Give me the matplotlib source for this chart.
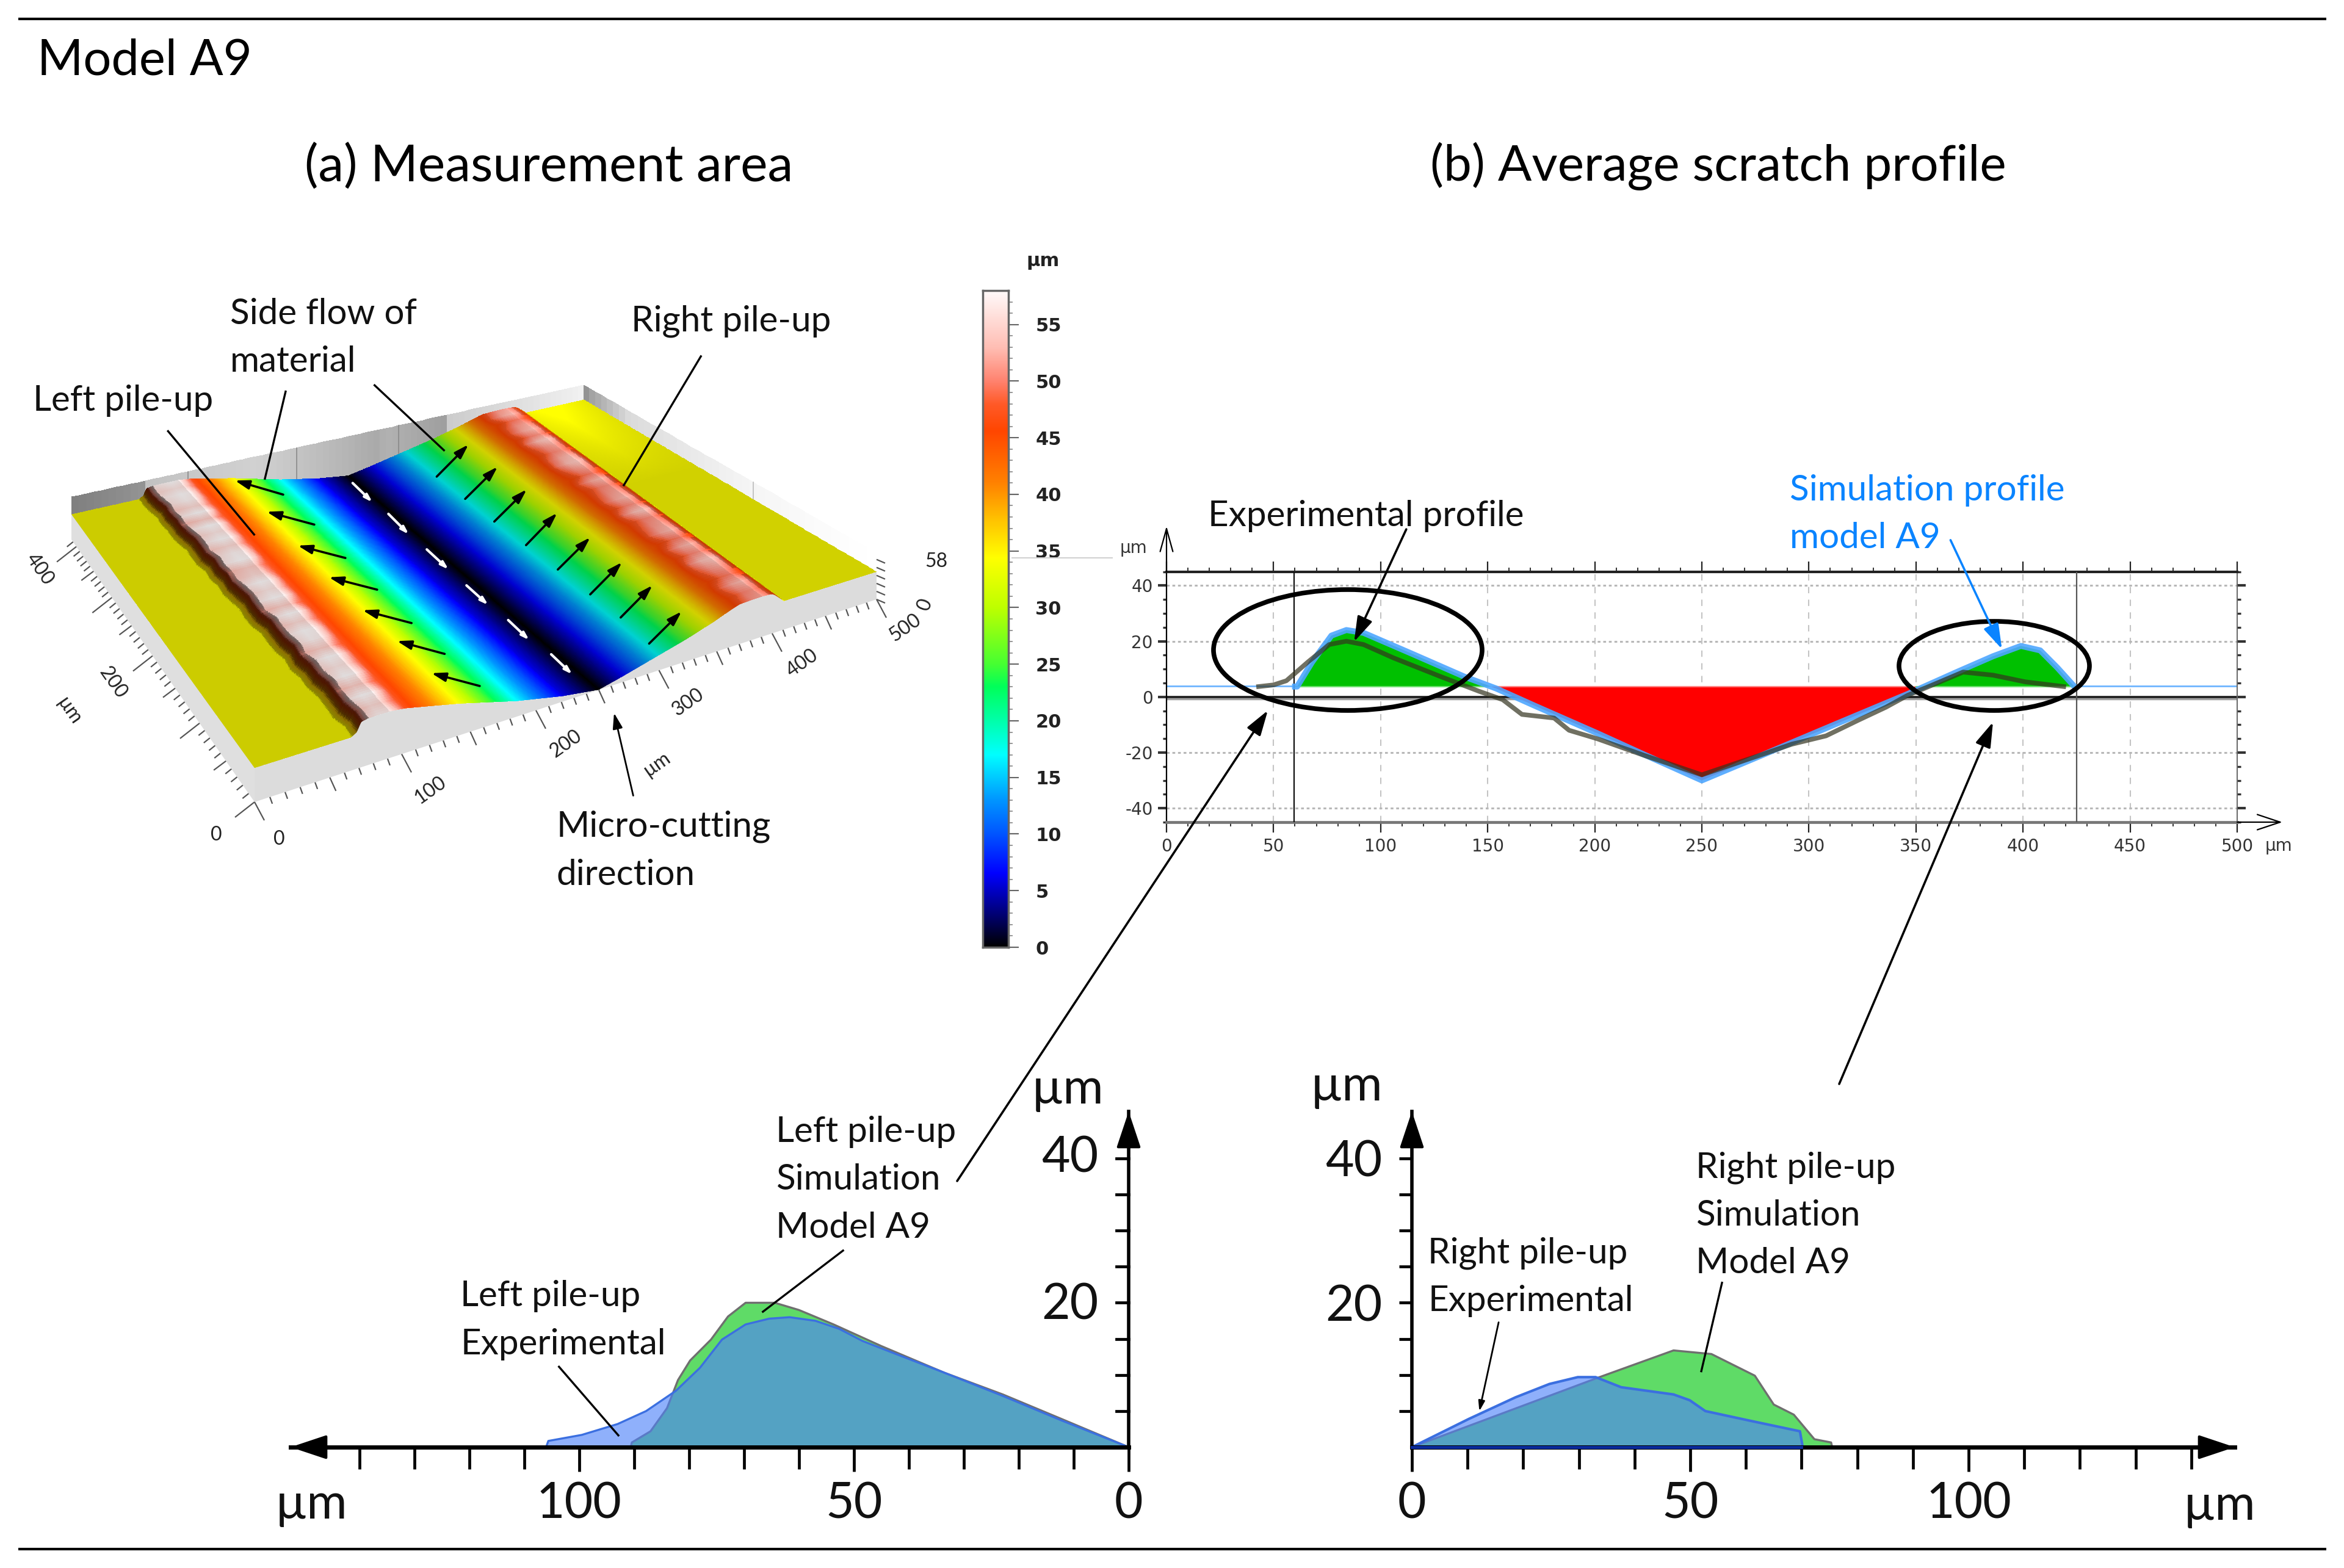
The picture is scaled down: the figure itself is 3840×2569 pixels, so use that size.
import numpy as np
import matplotlib
matplotlib.use("Agg")
import matplotlib.pyplot as plt
from matplotlib.colors import LinearSegmentedColormap
from matplotlib.patches import Ellipse
from matplotlib.collections import LineCollection
from matplotlib.ticker import FixedLocator, NullFormatter

W, H = 3841, 2569
S = W / 1568.0
FONT = ["Lato", "DejaVu Sans"]
plt.rcParams["font.family"] = FONT

# ---------- data ----------
# average scratch profile (b)
exp_x = [43, 50, 56, 66, 76, 84, 92, 106, 128, 146, 157, 166, 181, 188, 201, 223, 250, 277, 292, 308, 323, 336, 346, 359, 372, 386, 401, 419]
exp_y = [3.7, 4.3, 5.8, 12.5, 18.8, 20, 18.8, 14, 7.3, 2, -1, -6.3, -7.6, -12, -15, -21, -28, -21, -17, -14, -8.4, -3.7, 0.5, 4.7, 8.9, 7.8, 5.4, 3.7]
sim_x = [60, 61, 68, 77, 84, 92, 114, 139, 154, 172, 201, 223, 250, 277, 314, 346, 369, 386, 399, 408, 416, 424]
sim_y = [3.7, 3.7, 12.5, 22, 24, 23, 15.7, 7.3, 3, -3.2, -13, -20.7, -30, -21.3, -9.3, 1, 8.9, 14.6, 18.3, 16.7, 10.5, 3.7]
base_level = 3.7
cursor_x = [59.5, 425]

# left pile-up
lsim_x = [90.6, 90.4, 87, 84, 82, 79.8, 76, 72.9, 69.7, 64.4, 60, 53.7, 45, 33.5, 22.9, 12.2, 0]
lsim_y = [0, 0.65, 2.2, 5.4, 9.3, 12, 14.9, 18.1, 20, 20, 19, 17, 14, 10.3, 7.3, 3.9, 0]
lexp_x = [106, 105.6, 99.5, 93, 87.8, 82.4, 78, 74, 69.7, 65.4, 61.7, 57, 52.7, 48.4, 43, 33.5, 22.9, 12.2, 0]
lexp_y = [0, 0.86, 1.7, 3.2, 5, 7.8, 11, 14.9, 17, 17.8, 18, 17.5, 16.4, 14.7, 13.1, 10.3, 7.1, 3.7, 0]

# right pile-up
rsim_x = [0, 33.7, 47, 53.8, 61.6, 65, 68.6, 72.3, 75.3, 75.5]
rsim_y = [0, 9.7, 13.4, 12.9, 9.9, 5.9, 4.5, 1.1, 0.65, 0]
rexp_x = [0, 10.2, 18.6, 24.7, 29.8, 33, 37.6, 47, 49.9, 52.7, 60.5, 69.7, 70.2]
rexp_y = [0, 3.9, 6.9, 8.75, 9.7, 9.7, 8.3, 7.3, 6.5, 5, 3.7, 2.2, 0]

# measured surface (a): cross profile
surf_x = [0, 64, 68, 72, 76, 84, 92, 97, 103, 141, 185, 221, 250, 270, 300, 330, 355, 372, 382, 392, 402, 408, 414, 420, 423, 500]
surf_z = [34.4, 34.4, 38, 50, 56, 57.5, 57, 53, 47, 34.4, 17, 6, 0, 6, 16, 26, 36, 44, 48, 51, 52, 50, 45, 38, 34.4, 34.4]
# along-scratch irregularity of the pile-ups, front to back
station_v = np.linspace(0, 1, 31)
cliff_jag = [0.5, 2, 0, 1, 2, 0.5, 1.5, 0, 2, 0.5, 1, 2, 0, 0.5, 2, 1, 0, 1.5, 0.5, 2, 0, 1, 2, 0.5, 0, 1, 0.5, 2, 0.5, 0, 1]
ridge_wob = [0, -2, 0.5, -3, 0.5, -1, 0.5, -3, 0, 0.5, -2, 0.5, -3, 0.5, -1, 0.5, -2, -3, 0.5, 0, -2, 0.5, -1, 0.5, -3, 0.5, -2, 0, 0.5, -1, 0.5]
right_wob = [0, -1, 1, -2, 0, 2, -1, 1, -2, 1, 0, -1, 2, -1, 1, 0, -1, 1, -2, 0, 2, 1, -1, 0, 2, -1, 1, 0, -2, 1, 0]

# colour scale (a)
cb_vals = [0, 3, 6.5, 10, 13, 17, 20, 23, 25, 30, 34.4, 38, 41, 45.6, 48, 50, 53, 58]
cb_cols = ["#000000", "#000078", "#0000ff", "#0055ff", "#0096ff", "#00ffff", "#00ffaa", "#00ff5a", "#46ff32",
           "#beff00", "#ffff00", "#ffbe00", "#ff8200", "#ff4600", "#ff5a28", "#ff826e", "#ffbeb4", "#fffafa"]
cb_ticks = list(range(0, 56, 5))
Z_MAX = 58

profile_xticks = list(range(0, 501, 50))
profile_yticks = [-40, -20, 0, 20, 40]
pile_labels = [0, 50, 100]

# ---------- layers ----------
fig = plt.figure(figsize=(W / 100, H / 100), dpi=100, facecolor="white")


def rect_axes(x0, y0, x1, y1, **kw):
    return fig.add_axes([x0 / W, 1 - y1 / H, (x1 - x0) / W, (y1 - y0) / H], **kw)


bg = fig.add_axes([0, 0, 1, 1], zorder=0)
bg.set_xlim(0, W)
bg.set_ylim(H, 0)
bg.axis("off")

top = fig.add_axes([0, 0, 1, 1], zorder=10)
top.set_xlim(0, W)
top.set_ylim(H, 0)
top.axis("off")
top.patch.set_alpha(0)


def T(x, y, s, ha="left", size=42, color="k", rot=0, ax=None, **kw):
    (ax or top).text(x * S, (y + 1.0) * S, s, ha=ha, va="center", fontsize=size, color=color,
                     rotation=rot, rotation_mode="anchor", **kw)


def px(x, y, s, ha="center", size=23, color="#222222", rot=0, **kw):
    top.text(x, y, s, ha=ha, va="center", fontsize=size, color=color, rotation=rot,
             rotation_mode="anchor", **kw)


def arrow(p0, p1, color="k", lw=2.4, ms=26, style="-|>,head_length=0.7,head_width=0.22"):
    top.annotate("", xy=p1, xytext=p0,
                 arrowprops=dict(arrowstyle=style, lw=lw, color=color, mutation_scale=ms,
                                 shrinkA=0, shrinkB=0))


def line(p0, p1, color="k", lw=2.4):
    top.plot([p0[0], p1[0]], [p0[1], p1[1]], color=color, lw=lw, solid_capstyle="butt")


def z1(x, y):
    return (1.084 * x, 400 + 0.7015 * y)


def z2(x, y):
    return (1800 + 1.2755 * x, 750 + 0.4783 * y)


def z3(x, y):
    return (400 + 0.9566 * x, 1750 + 0.511 * y)


def z4(x, y):
    return (2100 + 1.0204 * x, 1750 + 0.511 * y)


# ---------- colour map ----------
cmap = LinearSegmentedColormap.from_list(
    "surf", [(v / Z_MAX, c) for v, c in zip(cb_vals, cb_cols)], N=1024)

# ---------- (a) projected surface ----------
XMAX, YMAX = 500.0, 415.0
src = [(0, 0), (1, 0), (0, 1), (1, 1)]
dst = [(417, 1314), (1436, 982), (117, 884), (956, 690)]
A, b = [], []
for (u, v), (X, Y) in zip(src, dst):
    A.append([u, v, 1, 0, 0, 0, -u * X, -v * X]); b.append(X)
    A.append([0, 0, 0, u, v, 1, -u * Y, -v * Y]); b.append(Y)
h = np.linalg.solve(np.array(A, float), np.array(b, float))
Hm = np.array([[h[0], h[1], h[2]], [h[3], h[4], h[5]], [h[6], h[7], 1.0]])


def project(x, y, z):
    u, v = np.asarray(x, float) / XMAX, np.asarray(y, float) / YMAX
    w = Hm[2, 0] * u + Hm[2, 1] * v + Hm[2, 2]
    sx = (Hm[0, 0] * u + Hm[0, 1] * v + Hm[0, 2]) / w
    sy = (Hm[1, 0] * u + Hm[1, 1] * v + Hm[1, 2]) / w
    return sx, sy - 1.62 / w * np.asarray(z, float)


def geom(z):
    z = np.asarray(z, float)
    return np.where(z > 47, 47 + 0.2 * (z - 47), z)


sx_arr, sz_arr = np.array(surf_x, float), np.array(surf_z, float)
grid_x = np.linspace(0, XMAX, 901)
rows_v = np.linspace(1, 0, 151)  # back to front
cliff = (sx_arr > 60) & (sx_arr < 80)
lridge = (sx_arr >= 76) & (sx_arr <= 97)
rgt = (sx_arr > 250) & (sx_arr < 500)
rridge = (sx_arr >= 382) & (sx_arr <= 408)
Zrows = []
for v in rows_v:
    xs = sx_arr.copy()
    zs = sz_arr.copy()
    xs[cliff] += np.interp(v, station_v, cliff_jag) - 8 * v
    zs[lridge] += np.interp(v, station_v, ridge_wob)
    xs[rgt] = 250 + (sx_arr[rgt] - 250) * (0.93 + 0.14 * v)
    zs[rridge] += np.interp(v, station_v, right_wob)
    Zrows.append(np.interp(grid_x, xs, np.clip(zs, 0, Z_MAX)))
Zrows = np.array(Zrows)
grad = np.gradient(Zrows, grid_x, axis=1)
shade = np.interp(grad, [-5, -0.25, -0.03, 0.03, 0.4, 1.0, 3.0], [0.9, 1.0, 0.82, 0.78, 0.8, 0.5, 0.3])
shade = np.where((Zrows > 48) & (grad < 0.6), np.maximum(shade, 0.88), shade)
right_side = grid_x > 250
shade[:, right_side] = np.maximum(shade[:, right_side], 0.82)
shade[:, right_side] = np.where(grad[:, right_side] < -0.7, 0.78, shade[:, right_side])
# brighter sheen on the far plain behind the right pile-up
sheen = np.outer(np.clip((rows_v - 0.55) / 0.45, 0, 1), np.clip(1 - np.abs(grid_x - 460) / 70, 0, 1))
shade = np.clip(shade + 0.22 * sheen, 0, 1)
rgba = cmap(Zrows / Z_MAX)[:, :, :3] * shade[:, :, None]

Xg, Yg = np.meshgrid(grid_x, rows_v * YMAX)
SX, SY = project(Xg, Yg, geom(Zrows))
cell_rgb = rgba[:-1, :-1, :]

# back walls
wall_z = np.array([0.0, 58.0])
wx = np.linspace(0, XMAX, 81)
WX, WZ = np.meshgrid(wx, wall_z)
BX, BY = project(WX, np.full_like(WX, YMAX), WZ)
back_gray = np.interp(wx[:-1], [0, 60, 62, 160, 280, 282, 345, 350, 500],
                      [0.50, 0.58, 0.76, 0.82, 0.66, 0.7, 0.62, 0.8, 0.95])
bg.pcolormesh(BX, BY, np.dstack([back_gray] * 3).reshape(1, 80, 3), shading="flat", zorder=1)
wy = np.linspace(0, YMAX, 41)
WY, WZ2 = np.meshgrid(wy, wall_z)
RX, RY = project(np.full_like(WY, XMAX), WY, WZ2)
right_gray = np.interp(wy[:-1], [0, 150, 330, 400, YMAX], [1.0, 0.96, 0.86, 0.62, 0.48])
bg.pcolormesh(RX, RY, np.dstack([right_gray] * 3).reshape(1, 40, 3), shading="flat", zorder=1)
for xw in (100, 200, 300):
    a0 = project(xw * 1.0, YMAX, 0.0)
    a1 = project(xw * 1.0, YMAX, 58.0)
    bg.plot([a0[0], a1[0]], [a0[1], a1[1]], color="#8a8a8a", lw=1.2, zorder=1.5)
a0 = project(XMAX, 150.0, 33.0)
a1 = project(XMAX, 150.0, 58.0)
bg.plot([a0[0], a1[0]], [a0[1], a1[1]], color="#bbbbbb", lw=1.2, zorder=1.5)

bg.pcolormesh(SX, SY, cell_rgb, shading="flat", zorder=2, antialiased=False, edgecolors="none")

# front and left faces of the block
fx, fy = project(grid_x, np.zeros_like(grid_x), geom(Zrows[-1]))
f0x, f0y = project(grid_x, np.zeros_like(grid_x), np.zeros_like(grid_x))
bg.fill(np.r_[fx, f0x[::-1]], np.r_[fy, f0y[::-1]], color="#dcdcdc", zorder=3, lw=0)
ly = np.linspace(0, YMAX, 41)
lx, lyy = project(np.zeros_like(ly), ly, np.full_like(ly, surf_z[0]))
l0x, l0y = project(np.zeros_like(ly), ly, np.zeros_like(ly))
bg.fill(np.r_[lx, l0x[::-1]], np.r_[lyy, l0y[::-1]], color="#dfdfdf", zorder=3, lw=0)

# axes ticks of the block
segs = []
for xt in range(0, 501, 10):
    d = (16, 30) if xt % 100 == 0 else ((10, 22) if xt % 50 == 0 else (4, 11))
    p = project(float(xt), 0.0, 0.0)
    segs.append([(float(p[0]), float(p[1])), (float(p[0]) + d[0], float(p[1]) + d[1])])
for yt in range(0, 411, 10):
    d = (-32, 25) if yt % 100 == 0 else ((-20, 15) if yt % 50 == 0 else (-10, 8))
    p = project(0.0, float(yt), 0.0)
    segs.append([(float(p[0]), float(p[1])), (float(p[0]) + d[0], float(p[1]) + d[1])])
for zt in range(0, 59, 10):
    p = project(XMAX, 0.0, float(zt) * 1.0)
    segs.append([(float(p[0]), float(p[1])), (float(p[0]) + 14, float(p[1]) + 6)])
bg.add_collection(LineCollection(segs, colors="#555555", linewidths=1.6, zorder=4))

for x, y, s, r in [(354, 1368, "0", 0), (457, 1375, "0", 0), (705, 1295, "100", 35), (927, 1219, "200", 35),
                   (1127, 1151, "300", 35), (1314, 1087, "400", 35), (1483, 1029, "500", 35),
                   (1076, 1252, "µm", 35), (1516, 990, "0", 70), (1534, 920, "58", 0),
                   (65, 933, "400", -55), (185, 1119, "200", -55), (113, 1165, "µm", -55)]:
    px(x, y, s, rot=r)

# arrows on the surface
for a, c in [((428, 585), (355, 552)), ((475, 655), (403, 625)), ((522, 733), (450, 704)), ((570, 807), (497, 778)),
             ((622, 885), (548, 855)), ((672, 957), (600, 927)), ((725, 1032), (652, 1002)),
             ((660, 543), (708, 468)), ((703, 595), (752, 520)), ((747, 648), (796, 573)), ((795, 703), (842, 628)),
             ((843, 760), (892, 685)), ((892, 818), (940, 743)), ((938, 872), (986, 797)), ((981, 933), (1030, 858))]:
    arrow(z1(*a), z1(*c), lw=2.6, ms=20)
for a, c in [((533, 558), (563, 603)), ((587, 630), (618, 678)), ((645, 713), (678, 760)), ((705, 797), (738, 843)),
             ((768, 878), (800, 925)), ((833, 958), (865, 1005))]:
    arrow(z1(*a), z1(*c), color="white", lw=3, ms=10)

# ---------- colour bar ----------
cb = rect_axes(1610, 476, 1652, 1552, zorder=5)
cb.imshow(np.linspace(Z_MAX, 0, 1024)[:, None], cmap=cmap, vmin=0, vmax=Z_MAX, aspect="auto", extent=[0, 1, 0, Z_MAX])
cb.set_xticks([])
cb.yaxis.tick_right()
cb.set_yticks(cb_ticks)
cb.set_yticklabels([str(t) for t in cb_ticks], fontsize=22, fontweight="bold", family="DejaVu Sans", color="#222222")
cb.yaxis.set_minor_locator(FixedLocator(list(range(0, 58))))
cb.tick_params(axis="y", which="major", length=12, width=1.5, color="#666666", pad=20)
cb.tick_params(axis="y", which="minor", length=5, width=1.2, color="#888888")
for v in range(0, 51, 10):
    cb.plot([1, 1.36], [v, v], color="#666666", lw=1.5, clip_on=False)
cb.set_xlim(0, 1)
cb.set_ylim(0, Z_MAX)
for sp in cb.spines.values():
    sp.set_color("#666666")
    sp.set_linewidth(2.5)
px(1708, 427, "µm", size=22, family="DejaVu Sans", fontweight="bold")
line((1657, 914), (1823, 914), color="#cfcfcf", lw=1.4)

# ---------- (b) profile ----------
pr = rect_axes(1911, 936.5, 3665, 1347, zorder=5)
pr.set_xlim(0, 500)
pr.set_ylim(-45, 45)
sx_p = np.array(sim_x, float)
sy_p = np.array(sim_y, float)
for v in profile_xticks[1:-1]:
    pr.axvline(v, color="#c4c4c4", lw=1.5, ls=(0, (5, 5)), zorder=1)
for v in [-40, -20, 20, 40]:
    pr.axhline(v, color="#b8b8b8", lw=2.2, ls=(0, (1.5, 1.5)), zorder=1)
pr.axhline(-0.7, color="#a0a0a0", lw=2.5, zorder=1.2)
pr.axhline(0, color="#1a1a1a", lw=2.6, zorder=1.3)
pr.plot([0, 60], [4, 4], color="#6fb6ff", lw=2, zorder=2)
pr.plot([424, 500], [4, 4], color="#6fb6ff", lw=2, zorder=2)
pr.fill_between(sx_p, sy_p, base_level, where=sy_p >= base_level, interpolate=True, color="#00c000", lw=0, zorder=2)
pr.fill_between(sx_p, sy_p, base_level, where=sy_p <= base_level, interpolate=True, color="#ff0000", lw=0, zorder=2)
pr.plot([60, 150], [base_level] * 2, color="#70e070", lw=1.6, zorder=2.2)
pr.plot([154, 346], [base_level] * 2, color="#ff8080", lw=1.6, zorder=2.2)
pr.plot([350, 424], [base_level] * 2, color="#70e070", lw=1.6, zorder=2.2)
pr.axvline(cursor_x[0], color="#111111", lw=1.6, zorder=3)
pr.axvline(cursor_x[1], color="#555555", lw=1.6, zorder=3)
pr.plot(sim_x, sim_y, color="#4da6ff", lw=7, alpha=0.9, zorder=4, solid_joinstyle="round")
pr.plot(exp_x, exp_y, color="#34341f", lw=5.5, alpha=0.7, zorder=5, solid_joinstyle="round")
pr.set_xticks(profile_xticks)
pr.set_xticklabels([str(v) for v in profile_xticks], fontsize=20, family="DejaVu Sans", color="#333333")
pr.set_yticks(profile_yticks)
pr.set_yticklabels([str(v) for v in profile_yticks], fontsize=20, family="DejaVu Sans", color="#333333")
pr.xaxis.set_minor_locator(FixedLocator(list(range(0, 501, 10))))
pr.yaxis.set_minor_locator(FixedLocator(list(range(-45, 46, 5))))
pr.xaxis.set_minor_formatter(NullFormatter())
pr.tick_params(axis="x", which="major", top=True, length=12, width=1.6, color="#222222", pad=7)
pr.tick_params(axis="x", which="minor", top=True, length=5, width=1.4, color="#333333")
pr.tick_params(axis="y", which="major", right=True, length=10, width=3, color="#333333", pad=6)
pr.tick_params(axis="y", which="minor", right=True, length=4, width=2.4, color="#333333")
pr.spines["top"].set_linewidth(3)
pr.spines["top"].set_color("#222222")
pr.spines["bottom"].set_linewidth(3.4)
pr.spines["bottom"].set_color("#777777")
pr.spines["left"].set_linewidth(1.6)
pr.spines["right"].set_linewidth(1.4)
pr.spines["right"].set_color("#666666")
pr.set_facecolor("white")
arrow((1911, 937), (1911, 862), lw=1.6, ms=30, style="->,head_length=0.9,head_width=0.25")
arrow((3665, 1347), (3739, 1347), lw=1.6, ms=30, style="->,head_length=0.9,head_width=0.3")
px(1857, 898, "µm", size=20, family="DejaVu Sans", color="#333333")
px(3733, 1386, "µm", size=20, family="DejaVu Sans", color="#333333")
top.add_patch(Ellipse((2208, 1065), 440, 198, fill=False, ec="k", lw=5.5))
top.add_patch(Ellipse((3267, 1091), 312, 146, fill=False, ec="k", lw=5.5))


# ---------- pile-up plots ----------
def pile_axes(x0, x1, y0, y1, xlim, ylim):
    ax = rect_axes(x0, y0, x1, y1, zorder=4)
    ax.set_xlim(*xlim)
    ax.set_ylim(*ylim)
    ax.patch.set_alpha(0)
    ax.set_xticks(pile_labels)
    ax.set_xticklabels([str(v) for v in pile_labels], fontsize=58, color="#111111")
    ax.xaxis.set_minor_locator(FixedLocator([v for v in range(0, 141, 10) if v not in pile_labels]))
    ax.set_yticks([20, 40])
    ax.set_yticklabels(["20", "40"], fontsize=58, color="#111111")
    ax.yaxis.set_minor_locator(FixedLocator([5, 10, 15, 25, 30, 35]))
    ax.tick_params(axis="x", which="major", length=29, width=3.4, pad=12)
    ax.tick_params(axis="x", which="minor", length=26, width=3.4)
    return ax


GREEN, BLUE = "#5fdb67", (78 / 255, 130 / 255, 250 / 255, 0.63)

ax = pile_axes(476, 1849, 1821, 2371, (152.5, 0), (0, 46.5))
ax.fill(lsim_x, lsim_y, color=GREEN, lw=0, zorder=1)
ax.plot(lsim_x, lsim_y, color="#6f6f6f", lw=2.4, zorder=1.5)
ax.fill(lexp_x, lexp_y, color=BLUE, lw=0, zorder=2)
ax.plot(lexp_x, lexp_y, color="#3b6fe0", lw=2.4, zorder=2.5)
ax.yaxis.tick_right()
ax.tick_params(axis="y", which="both", left=False, right=True, labelright=False, length=0)
for v in [5, 10, 15, 20, 25, 30, 35, 40]:
    ax.plot([2.2, 0], [v, v], color="k", lw=3.4, clip_on=False, zorder=3)
for sp in ("top", "left"):
    ax.spines[sp].set_visible(False)
ax.spines["right"].set_linewidth(4)
ax.spines["bottom"].set_linewidth(5)
arrow((1849, 1900), (1849, 1821), lw=3, ms=62, style="-|>,head_length=0.6,head_width=0.2")
arrow((560, 2371), (476, 2371), lw=3, ms=62, style="-|>,head_length=0.6,head_width=0.2")
px(1753, 1897, "40", size=58, color="#111111")
px(1753, 2139, "20", size=58, color="#111111")
px(510, 2465, "µm", size=58, color="#111111")
px(1749, 1785, "µm", size=58, color="#111111")

ax = pile_axes(2313, 3661, 1821, 2371, (0, 147.8), (0, 46.5))
ax.fill(rsim_x, rsim_y, color=GREEN, lw=0, zorder=1)
ax.plot(rsim_x, rsim_y, color="#6f6f6f", lw=2.4, zorder=1.5)
ax.fill(rexp_x, rexp_y, color=BLUE, lw=0, zorder=2)
ax.plot(rexp_x, rexp_y, color="#3b6fe0", lw=3, zorder=2.5)
ax.plot([0, 70], [0, 0], color="#0a2a9e", lw=3.5, zorder=4, clip_on=False)
ax.tick_params(axis="y", which="major", length=15, width=3.4, pad=20)
ax.tick_params(axis="y", which="minor", length=15, width=3.4)
for sp in ("top", "right"):
    ax.spines[sp].set_visible(False)
ax.spines["left"].set_linewidth(4)
ax.spines["bottom"].set_linewidth(5)
arrow((2313, 1900), (2313, 1821), lw=3, ms=62, style="-|>,head_length=0.6,head_width=0.2")
arrow((3580, 2371), (3661, 2371), lw=3, ms=62, style="-|>,head_length=0.6,head_width=0.2")
px(3636, 2467, "µm", size=58, color="#111111")
px(2206, 1780, "µm", size=58, color="#111111")

# ---------- annotation ----------
top.hlines(31, 30, 3811, color="k", lw=3)
top.hlines(2538, 30, 3811, color="k", lw=3)
T(25, 39.5, "Model A9", size=58.5)
T(367, 111, "(a) Measurement area", ha="center", size=60.5)
T(1149, 110, "(b) Average scratch profile", ha="center", size=59)
for x, y, s in [(154, 209, "Side flow of"), (154, 241, "material"), (422, 214, "Right pile-up"), (22, 267, "Left pile-up"),
                (372, 552, "Micro-cutting"), (372, 584, "direction"), (808, 344, "Experimental profile"),
                (519, 756, "Left pile-up"), (519, 788, "Simulation"), (519, 820, "Model A9"),
                (308, 866, "Left pile-up"), (308, 898, "Experimental"), (955, 837, "Right pile-up"),
                (955, 869, "Experimental"), (1134, 780, "Right pile-up"), (1134, 812, "Simulation"), (1134, 844, "Model A9")]:
    T(x, y, s, color="#111111")
T(1197, 327, "Simulation profile", color="#0a84ff")
T(1197, 359, "model A9", color="#0a84ff")

line(z1(253, 435), z1(385, 680))
line(z1(432, 342), z1(400, 550))
line(z1(565, 328), z1(672, 483))
line(z1(1060, 260), z1(942, 565))
arrow(z1(957, 1288), z1(928, 1095), lw=2, ms=22)
arrow(z2(395, 245), z2(328, 630), lw=2.6, ms=36)
arrow(z2(1094, 282), z2(1160, 655), color="#0a84ff", lw=2.6, ms=36)
arrow((1568, 1935), (2077, 1164), lw=2.6, ms=36)
arrow((3013, 1776), (3265, 1183), lw=2.6, ms=36)
line(z3(1027, 583), z3(887, 783))
line(z3(538, 955), z3(642, 1180))
line(z4(707, 685), z4(673, 975))
arrow(z4(348, 815), z4(317, 1100), lw=2, ms=14)

fig.savefig("out.png", dpi=100, facecolor="white")
